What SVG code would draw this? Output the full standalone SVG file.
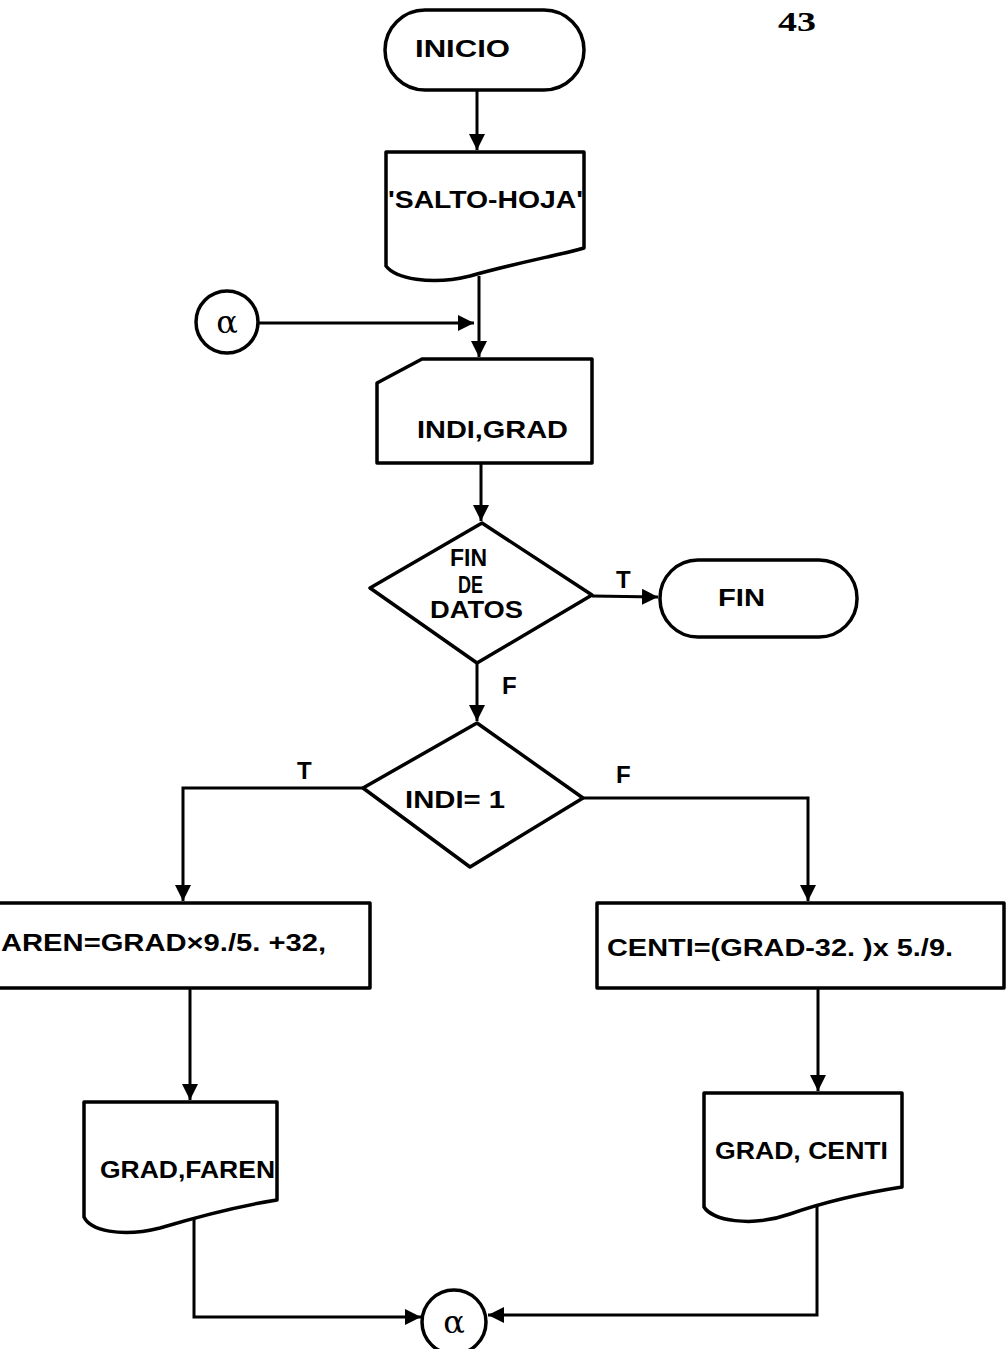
<svg xmlns="http://www.w3.org/2000/svg" width="1006" height="1349" viewBox="0 0 1006 1349">
<style>
.s{fill:#fff;stroke:#000;stroke-width:3.5;stroke-linejoin:round}
.c{fill:none;stroke:#000;stroke-width:3}
.t{font-family:"Liberation Sans",Arial,sans-serif;font-weight:bold;font-size:24px;fill:#000}
.a{font-family:"DejaVu Serif","Liberation Serif",serif;font-size:32px;fill:#000}
</style>
<defs>
<marker id="ar" markerUnits="userSpaceOnUse" markerWidth="18" markerHeight="18" refX="16" refY="8" orient="auto">
<path d="M0,0 L16,8 L0,16 Z" fill="#000"/>
</marker>
</defs>
<rect width="1006" height="1349" fill="#fff"/>
<text x="778" y="31" font-family="Liberation Serif,serif" font-weight="bold" font-size="27" textLength="38" lengthAdjust="spacingAndGlyphs">43</text>
<g id="connectors">
<line class="c" x1="477" y1="90" x2="477" y2="150" marker-end="url(#ar)"/>
<line class="c" x1="479" y1="276" x2="479" y2="357" marker-end="url(#ar)"/>
<line class="c" x1="258" y1="323" x2="474" y2="323" marker-end="url(#ar)"/>
<line class="c" x1="481" y1="463" x2="481" y2="521" marker-end="url(#ar)"/>
<line class="c" x1="592" y1="596" x2="658" y2="597" marker-end="url(#ar)"/>
<line class="c" x1="477" y1="663" x2="477" y2="721" marker-end="url(#ar)"/>
<polyline class="c" points="363,788 183,788 183,901" marker-end="url(#ar)"/>
<polyline class="c" points="583,798 808,798 808,901" marker-end="url(#ar)"/>
<line class="c" x1="190" y1="988" x2="190" y2="1100" marker-end="url(#ar)"/>
<line class="c" x1="818" y1="988" x2="818" y2="1091" marker-end="url(#ar)"/>
<polyline class="c" points="194,1218 194,1317 421,1317" marker-end="url(#ar)"/>
<polyline class="c" points="817,1198 817,1315 488,1315" marker-end="url(#ar)"/>
</g>
<g id="inicio">
<rect class="s" x="385" y="10" width="199" height="80" rx="40"/>
<text class="t" x="415" y="57" textLength="95" lengthAdjust="spacingAndGlyphs">INICIO</text>
</g>
<g id="salto">
<path class="s" d="M386,152 H584 V248 C560,255 520,262 470,276 C430,286 395,278 386,266 Z"/>
<text class="t" x="388" y="208" textLength="195" lengthAdjust="spacingAndGlyphs">'SALTO-HOJA'</text>
</g>
<g id="alpha1">
<circle class="s" cx="227" cy="322" r="31"/>
<text class="a" x="227" y="333" text-anchor="middle">α</text>
</g>
<g id="indigrad">
<path class="s" d="M422,359 H592 V463 H377 V383 Z"/>
<text class="t" x="417" y="438" textLength="151" lengthAdjust="spacingAndGlyphs">INDI,GRAD</text>
</g>
<g id="findatos">
<polygon class="s" points="482,523 592,595 477,663 370,588"/>
<text class="t" x="450" y="566" textLength="37" lengthAdjust="spacingAndGlyphs">FIN</text>
<text class="t" x="458" y="593" textLength="25" lengthAdjust="spacingAndGlyphs">DE</text>
<text class="t" x="430" y="618" textLength="93" lengthAdjust="spacingAndGlyphs">DATOS</text>
</g>
<g id="fin">
<rect class="s" x="660" y="560" width="197" height="77" rx="38"/>
<text class="t" x="718" y="606" textLength="47" lengthAdjust="spacingAndGlyphs">FIN</text>
</g>
<text class="t" x="616" y="588">T</text>
<text class="t" x="502" y="694">F</text>
<g id="indi1">
<polygon class="s" points="477,723 583,798 470,867 363,788"/>
<text class="t" x="405" y="808" textLength="100" lengthAdjust="spacingAndGlyphs">INDI= 1</text>
</g>
<text class="t" x="616" y="783">F</text>
<text class="t" x="297" y="779">T</text>
<g id="faren">
<rect class="s" x="-10" y="903" width="380" height="85"/>
<text class="t" x="1" y="951" textLength="325" lengthAdjust="spacingAndGlyphs">AREN=GRAD×9./5. +32,</text>
</g>
<g id="centi">
<rect class="s" x="597" y="903" width="407" height="85"/>
<text class="t" x="607" y="956" textLength="346" lengthAdjust="spacingAndGlyphs">CENTI=(GRAD-32. )x 5./9.</text>
</g>
<g id="gradfaren">
<path class="s" d="M84,1102 H277 V1200 C245,1205 200,1216 160,1228 C120,1238 90,1230 84,1217 Z"/>
<text class="t" x="100" y="1178" textLength="175" lengthAdjust="spacingAndGlyphs">GRAD,FAREN</text>
</g>
<g id="gradcenti">
<path class="s" d="M704,1093 H902 V1187 C870,1192 830,1200 790,1214 C750,1228 712,1220 704,1207 Z"/>
<text class="t" x="715" y="1159" textLength="173" lengthAdjust="spacingAndGlyphs">GRAD, CENTI</text>
</g>
<g id="alpha2">
<circle class="s" cx="454" cy="1322" r="32"/>
<text class="a" x="454" y="1333" text-anchor="middle">α</text>
</g>
</svg>
